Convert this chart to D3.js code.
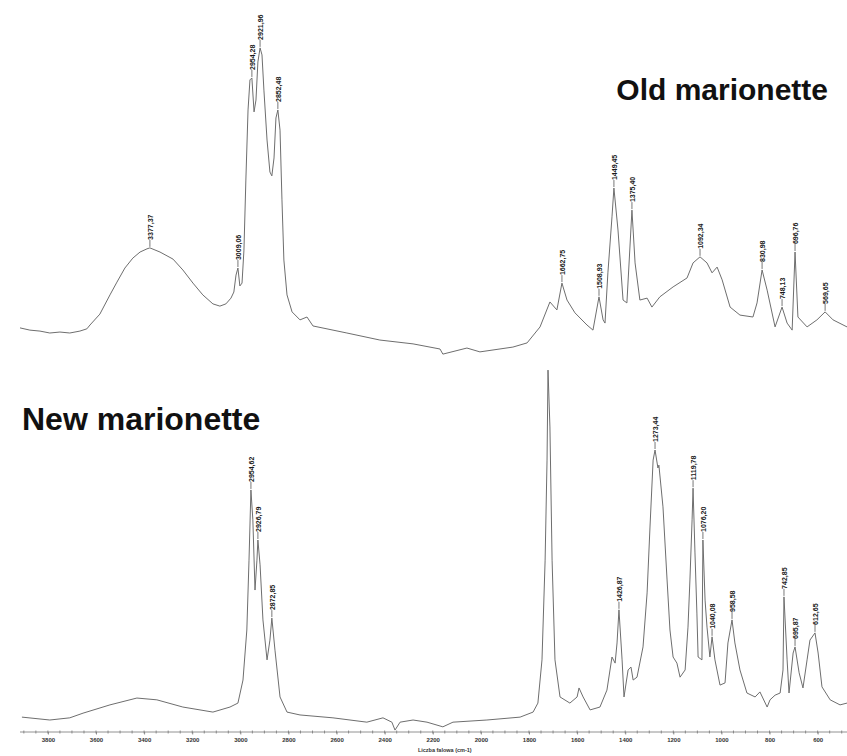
<!DOCTYPE html>
<html>
<head>
<meta charset="utf-8">
<script src="https://cdn.jsdelivr.net/npm/d3@7/dist/d3.min.js"></script>
<style>
  html, body { margin: 0; padding: 0; background: #fff; }
  svg { display: block; }
  .spec { fill: none; stroke: #6e6e6e; stroke-width: 1; stroke-linejoin: round; }
  .peak-lbl { font-family: "Liberation Sans", Arial, sans-serif; font-size: 7px; font-weight: bold; fill: #1a1a1a; }
  .leader { stroke: #555; stroke-width: 0.8; }
  .title { font-family: "Liberation Sans", Arial, Helvetica, sans-serif; font-weight: bold; fill: #111; }
  .axis text { font-family: "Liberation Sans", Arial, sans-serif; font-size: 6px; font-weight: bold; fill: #333; }
  .axis path, .axis line { stroke: #777; stroke-width: 0.8; }
  .ax-title { font-family: "Liberation Sans", Arial, sans-serif; font-size: 5.5px; font-weight: bold; fill: #333; }
</style>
</head>
<body>
<div id="chart"></div>
<script>
(function () {
  "use strict";

  // FTIR spectra, wavenumber (cm-1) / relative absorbance (0-100)
  var OLD_WN = [3916, 3875, 3833, 3792, 3750, 3709, 3667, 3638, 3625, 3584, 3542, 3513, 3480, 3447, 3417, 3388, 3376, 3334,
    3280, 3239, 3197, 3156, 3114, 3085, 3060, 3039, 3027, 3018, 3010, 3002, 2993, 2985, 2977, 2968, 2960, 2952, 2943, 2935,
    2927, 2918, 2910, 2902, 2889, 2877, 2869, 2860, 2852, 2844, 2835, 2827, 2819, 2806, 2785, 2752, 2723, 2698, 2557, 2420,
    2282, 2170, 2158, 2058, 2004, 1867, 1808, 1754, 1713, 1684, 1663, 1642, 1609, 1559, 1534, 1509, 1492, 1484, 1472, 1455,
    1447, 1430, 1409, 1393, 1372, 1359, 1339, 1309, 1289, 1256, 1201, 1143, 1118, 1089, 1060, 1039, 1018, 997, 964, 923,
    869, 852, 831, 810, 777, 748, 727, 706, 694, 682, 644, 603, 569, 536, 478];
  var OLD_ABS = [1.6, 0.9, 0.6, 0.0, 0.3, 0.0, 0.6, 1.3, 2.5, 5.9, 11.9, 15.9, 20.3, 23.4, 25.3, 26.3, 26.6, 25.3,
    23.1, 19.7, 15.6, 11.9, 9.1, 8.4, 9.1, 10.9, 12.8, 18.1, 20.3, 14.7, 15.6, 25.9, 47.8, 69.7, 79.1, 79.7, 69.1, 72.8,
    84.7, 89.1, 86.9, 75.9, 60.3, 50.3, 49.1, 54.7, 67.2, 69.7, 63.4, 41.6, 22.8, 11.9, 6.6, 4.1, 5.0, 2.2, 0.0, -2.2,
    -3.4, -5.0, -6.6, -4.7, -5.9, -4.4, -3.1, 1.9, 9.7, 7.2, 15.6, 10.3, 6.3, 2.5, 0.9, 11.3, 4.1, 3.1, 18.8, 36.3,
    45.3, 32.2, 10.3, 9.4, 38.4, 21.9, 10.3, 10.9, 8.1, 11.3, 14.4, 17.2, 21.9, 23.8, 21.9, 18.8, 20.6, 16.6, 8.1, 5.6,
    5.0, 9.4, 19.7, 13.4, 1.9, 8.1, 3.1, 0.9, 25.3, 5.0, 1.9, 4.1, 6.6, 4.1, 1.9];

  var NEW_WN = [3908, 3792, 3709, 3654, 3542, 3430, 3347, 3239, 3114, 3043, 3010, 2989, 2973, 2964, 2956, 2948, 2939, 2931,
    2927, 2918, 2906, 2889, 2877, 2869, 2856, 2835, 2806, 2752, 2615, 2474, 2407, 2370, 2357, 2336, 2282, 2224, 2158, 2116,
    1975, 1837, 1783, 1763, 1746, 1733, 1725, 1721, 1713, 1704, 1692, 1671, 1630, 1600, 1592, 1575, 1546, 1505, 1476, 1455,
    1442, 1434, 1426, 1413, 1405, 1388, 1376, 1367, 1351, 1326, 1309, 1297, 1284, 1276, 1264, 1260, 1243, 1226, 1214, 1201,
    1185, 1172, 1151, 1139, 1131, 1122, 1118, 1110, 1102, 1097, 1081, 1077, 1068, 1060, 1048, 1039, 1027, 1006, 985, 973,
    956, 944, 923, 894, 860, 840, 810, 798, 777, 756, 744, 740, 727, 719, 702, 694, 677, 661, 644, 632, 611, 598, 582,
    548, 507, 478];
  var NEW_ABS = [0.8, 0.0, 0.6, 1.9, 4.2, 6.1, 5.6, 3.6, 2.2, 3.6, 4.7, 11.1, 25.0, 44.4, 63.9, 55.6, 36.1, 44.4,
    50.0, 43.1, 27.8, 16.7, 22.2, 28.3, 19.4, 6.4, 2.2, 1.4, 0.6, -0.6, 0.6, -0.6, -2.8, -0.6, 0.0, -0.6, -1.9, -0.6,
    0.0, 0.8, 2.2, 4.7, 16.7, 44.4, 72.2, 97.2, 81.4, 44.4, 16.7, 6.4, 4.7, 6.4, 8.9, 6.4, 2.8, 3.6, 8.3, 17.5,
    15.8, 21.4, 30.6, 16.7, 6.4, 13.9, 14.7, 11.1, 11.9, 20.3, 35.3, 53.6, 72.2, 75.0, 70.0, 70.8, 59.2, 38.9, 25.0, 17.5,
    15.8, 11.9, 13.9, 25.8, 38.9, 55.6, 64.4, 46.4, 29.7, 17.5, 16.7, 50.0, 33.3, 25.8, 17.5, 23.1, 16.7, 9.7, 10.3, 21.4,
    27.8, 21.4, 13.9, 7.5, 6.4, 7.8, 3.6, 5.6, 6.9, 7.5, 13.9, 34.2, 16.7, 7.5, 18.6, 20.3, 13.1, 8.9, 16.7, 22.2, 24.2, 18.6, 9.2,
    5.6, 4.2, 4.7];

  // peak annotations (wavenumber of the marked point, printed label)
  var OLD_PEAK_WN = [3376, 3010, 2952, 2918, 2844, 1663, 1509, 1447, 1372, 1089, 831, 748, 694, 569];
  var OLD_PEAK_TXT = ["3377,37", "3009,06", "2954,28", "2921,96", "2852,48", "1662,75", "1508,93", "1449,45",
    "1375,40", "1092,34", "830,98", "748,13", "696,76", "569,65"];
  var NEW_PEAK_WN = [2956, 2927, 2869, 1426, 1276, 1118, 1077, 1039, 956, 740, 694, 611];
  var NEW_PEAK_TXT = ["2954,62", "2926,79", "2872,85", "1426,87", "1273,44", "1119,78", "1076,20", "1040,08",
    "958,58", "742,85", "695,87", "612,65"];

  var AXIS_TICKS = [3800, 3600, 3400, 3200, 3000, 2800, 2600, 2400, 2200, 2000, 1800, 1600, 1400, 1200, 1000, 800, 600];
  var X_TITLE = "Liczba falowa (cm-1)";

  var W = 847, H = 756;
  var svg = d3.select("#chart").append("svg").attr("width", W).attr("height", H);

  var x = d3.scaleLinear().domain([3916, 478]).range([20, 847]);
  var yOld = d3.scaleLinear().domain([0, 100]).range([333, 13]);
  var yNew = d3.scaleLinear().domain([0, 100]).range([720, 360]);

  function drawSpectrum(wn, ab, y, pkWn, pkTxt) {
    var pts = wn.map(function (w, i) { return [w, ab[i]]; });
    var line = d3.line().x(function (d) { return x(d[0]); }).y(function (d) { return y(d[1]); });
    svg.append("path").attr("class", "spec").attr("d", line(pts));

    var g = svg.append("g");
    pkWn.forEach(function (w, i) {
      var k = wn.indexOf(w);
      var px = x(w), py = y(ab[k]);
      g.append("line").attr("class", "leader")
        .attr("x1", px).attr("x2", px).attr("y1", py - 1).attr("y2", py - 8);
      g.append("text").attr("class", "peak-lbl")
        .attr("transform", "translate(" + (px + 0.5) + "," + (py - 8) + ") rotate(-90)")
        .attr("dy", "0.35em")
        .text(pkTxt[i]);
    });
  }

  drawSpectrum(OLD_WN, OLD_ABS, yOld, OLD_PEAK_WN, OLD_PEAK_TXT);
  drawSpectrum(NEW_WN, NEW_ABS, yNew, NEW_PEAK_WN, NEW_PEAK_TXT);

  // titles
  svg.append("text").attr("class", "title").attr("x", 828).attr("y", 100).attr("text-anchor", "end")
    .style("font-size", "30px").text("Old marionette");
  svg.append("text").attr("class", "title").attr("x", 22).attr("y", 430)
    .style("font-size", "32px").text("New marionette");

  // x axis: labelled every 200, minor marks every 50
  var axY = 732;
  var minor = d3.range(3900, 499, -50);
  var ga = svg.append("g").attr("class", "axis").attr("transform", "translate(0," + axY + ")");
  ga.append("line").attr("x1", 20).attr("x2", 847).attr("y1", 0).attr("y2", 0);
  ga.selectAll("line.mn").data(minor).join("line").attr("class", "mn")
    .attr("x1", function (d) { return x(d); }).attr("x2", function (d) { return x(d); })
    .attr("y1", -1.5).attr("y2", 1.5);
  var axis = d3.axisBottom(x).tickValues(AXIS_TICKS).tickSize(2.5).tickPadding(3).tickFormat(d3.format("d"));
  ga.append("g").call(axis).call(function (s) { s.select(".domain").remove(); });

  svg.append("text").attr("class", "ax-title").attr("x", x(2200) + 12).attr("y", 752)
    .attr("text-anchor", "middle").text(X_TITLE);
})();
</script>
</body>
</html>
